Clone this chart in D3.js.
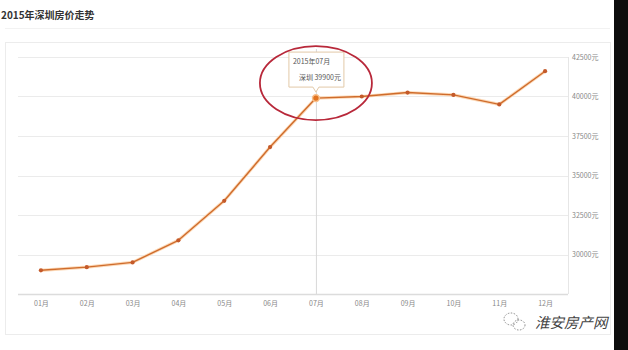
<!DOCTYPE html>
<html lang="zh">
<head>
  <meta charset="UTF-8">
  <title>2015年深圳房价走势</title>
  <script src="https://d3js.org/d3.v7.min.js"></script>
  <style>
    body { margin: 0; background: #fff; font-family: "Noto Sans CJK SC", "Noto Sans", sans-serif; }
    svg { display: block; }
  </style>
</head>
<body>
  <svg width="628" height="350"></svg>
  <script>
    // data
    const months = ["01月", "02月", "03月", "04月", "05月", "06月", "07月", "08月", "09月", "10月", "11月", "12月"];
    const prices = [29000, 29200, 29500, 30900, 33400, 36800, 39900, 40000, 40250, 40100, 39500, 41600];
    const yTicks = [30000, 32500, 35000, 37500, 40000, 42500];
    const highlight = 6; // 07月

    const width = 628, height = 350;
    const plot = { left: 18, right: 568, top: 57, bottom: 294 };

    const svg = d3.select("svg");

    // card + right dark strip
    svg.append("rect").attr("x", 5.5).attr("y", 42.5).attr("width", 605).attr("height", 292)
       .attr("fill", "#fff").attr("stroke", "#ececec");
    svg.append("rect").attr("x", 614).attr("y", 0).attr("width", 14).attr("height", height).attr("fill", "#0d0d0d");

    // title
    svg.append("text").attr("x", 1).attr("y", 19)
       .style("font-size", "10px").style("font-weight", "bold").attr("fill", "#333")
       .text("2015年深圳房价走势");
    svg.append("line").attr("x1", 5).attr("x2", 610).attr("y1", 28.5).attr("y2", 28.5)
       .attr("stroke", "#f2f2f2");

    const x = d3.scalePoint().domain(months).range([plot.left, plot.right]).padding(0.5);
    const y = d3.scaleLinear().domain([27500, 42500]).range([plot.bottom, plot.top]);

    // horizontal grid
    svg.append("g").selectAll("line").data(yTicks).join("line")
       .attr("x1", plot.left).attr("x2", plot.right)
       .attr("y1", d => Math.round(y(d)) + 0.5).attr("y2", d => Math.round(y(d)) + 0.5)
       .attr("stroke", "#ebebeb");

    // frame right + bottom
    svg.append("line").attr("x1", plot.right + 0.5).attr("x2", plot.right + 0.5)
       .attr("y1", plot.top).attr("y2", plot.bottom).attr("stroke", "#e6e6e6");
    svg.append("line").attr("x1", plot.left).attr("x2", plot.right)
       .attr("y1", plot.bottom + 0.5).attr("y2", plot.bottom + 0.5).attr("stroke", "#dcdcdc").attr("stroke-width", 1.5);

    // y labels on right
    const yAxis = d3.axisRight(y).tickValues(yTicks).tickSize(0).tickPadding(0).tickFormat(d => d + "元");
    const ya = svg.append("g").attr("transform", `translate(${plot.right + 4},0)`).call(yAxis);
    ya.select(".domain").remove();
    ya.selectAll("text").style("font-size", "7px").attr("fill", "#888").style("font-family", "\"Noto Sans CJK SC\", sans-serif");

    // x labels
    const xAxis = d3.axisBottom(x).tickSize(0).tickPadding(7);
    const xa = svg.append("g").attr("transform", `translate(0,${plot.bottom})`).call(xAxis);
    xa.select(".domain").remove();
    xa.selectAll("text").style("font-size", "7px").attr("fill", "#888").style("font-family", "\"Noto Sans CJK SC\", sans-serif");

    // crosshair at highlighted month
    const hx = x(months[highlight]);
    svg.append("line").attr("x1", hx + 0.5).attr("x2", hx + 0.5).attr("y1", plot.top - 8).attr("y2", plot.bottom)
       .attr("stroke", "#d8d8d8");

    // line
    const line = d3.line().x((d, i) => x(months[i])).y(d => y(d));
    svg.append("path").datum(prices).attr("d", line).attr("fill", "none")
       .attr("stroke", "#fcd9b8").attr("stroke-width", 3.2).attr("stroke-linejoin", "round");
    svg.append("path").datum(prices).attr("d", line).attr("fill", "none")
       .attr("stroke", "#cf6c2c").attr("stroke-width", 1.4).attr("stroke-linejoin", "round");

    svg.append("g").selectAll("circle").data(prices).join("circle")
       .attr("cx", (d, i) => x(months[i])).attr("cy", d => y(d))
       .attr("r", (d, i) => i === highlight ? 3.4 : 2.1)
       .attr("fill", (d, i) => i === highlight ? "#e2731f" : "#c45a2a")
       .attr("stroke", (d, i) => i === highlight ? "#f7c08c" : "none").attr("stroke-width", 1.5);

    // tooltip
    const hy = y(prices[highlight]);
    const tip = svg.append("g");
    tip.append("path")
       .attr("d", `M${hx - 27},${hy - 46} H${hx + 28} V${hy - 11} H${hx + 3} L${hx},${hy - 6} L${hx - 3},${hy - 11} H${hx - 27} Z`)
       .attr("fill", "#fff").attr("stroke", "#e2c9a8").attr("stroke-width", 1);
    tip.append("text").attr("x", hx - 23).attr("y", hy - 34).style("font-size", "7px").attr("fill", "#555")
       .text("2015年" + months[highlight]);
    tip.append("text").attr("x", hx - 17).attr("y", hy - 18).style("font-size", "7px").attr("fill", "#555")
       .text("深圳 " + prices[highlight] + "元");

    // red annotation ellipse
    svg.append("ellipse").attr("cx", hx).attr("cy", hy - 15).attr("rx", 56).attr("ry", 37)
       .attr("fill", "none").attr("stroke", "#b8283a").attr("stroke-width", 1.8);

    // watermark
    const wm = svg.append("g").attr("transform", "translate(514,322)");
    wm.append("ellipse").attr("cx", -3).attr("cy", -3).attr("rx", 7).attr("ry", 6)
      .attr("fill", "none").attr("stroke", "#888").attr("stroke-dasharray", "1.5,1.5");
    wm.append("ellipse").attr("cx", 5).attr("cy", 3).attr("rx", 6).attr("ry", 5)
      .attr("fill", "none").attr("stroke", "#888").attr("stroke-dasharray", "1.5,1.5");
    svg.append("text").attr("x", 535).attr("y", 328)
       .style("font-size", "14.5px").style("font-style", "italic").attr("fill", "#444")
       .text("淮安房产网");
  </script>
</body>
</html>
